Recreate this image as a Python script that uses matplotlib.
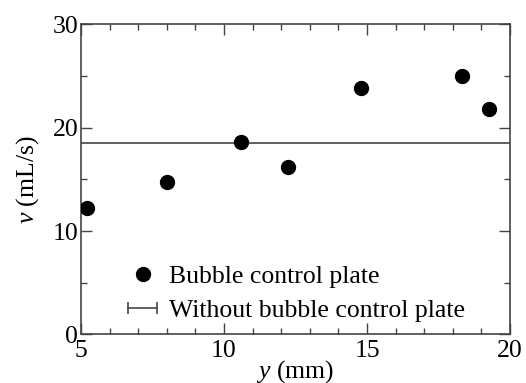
import matplotlib
matplotlib.use("Agg")
from matplotlib import pyplot as plt
from matplotlib.lines import Line2D
from matplotlib.legend_handler import HandlerLine2D
from matplotlib.ticker import MultipleLocator

plt.rcParams["font.family"] = "Liberation Serif"
plt.rcParams["mathtext.fontset"] = "custom"
plt.rcParams["mathtext.it"] = "Liberation Serif:italic"
plt.rcParams["mathtext.rm"] = "Liberation Serif"

# --- Datos ---
y_mm = [5.22, 8.0, 10.58, 12.23, 14.79, 18.33, 19.28]
v_plate = [12.25, 14.77, 18.58, 16.19, 23.87, 25.03, 21.8]
v_sin_placa = 18.54

lbl_plate = "Bubble control plate"
lbl_sin = "Without bubble control plate"

fs = 18.5
gris = "#444444"

fig = plt.figure(figsize=(5.26, 3.83), dpi=100)
ax = fig.add_axes([0.154, 0.127, 0.8156, 0.8096])

ax.scatter(y_mm, v_plate, s=100, c="black", zorder=3)
ax.axhline(v_sin_placa, color=gris, lw=1.2, zorder=2)

ax.set_xlim(5, 20)
ax.set_ylim(0, 30)
ax.xaxis.set_major_locator(MultipleLocator(5))
ax.xaxis.set_minor_locator(MultipleLocator(1))
ax.yaxis.set_major_locator(MultipleLocator(10))
ax.yaxis.set_minor_locator(MultipleLocator(5))
ax.tick_params(which="both", direction="in", top=True, right=True,
               width=1.0, color=gris, labelsize=fs)
ax.tick_params(axis="x", pad=4)
ax.tick_params(axis="y", pad=2)
ax.tick_params(which="major", length=8)
ax.tick_params(which="minor", length=4)
for s in ax.spines.values():
    s.set_color(gris)
    s.set_linewidth(1.2)

ax.set_xlabel(r"$\mathit{y}$ (mm)", fontsize=fs, labelpad=-3)
ax.set_ylabel(r"$\mathit{v}$ (mL/s)", fontsize=fs, labelpad=8)

# Leyenda
h1 = Line2D([], [], ls="none", marker="o", ms=10, color="black")
h2 = Line2D([], [], color=gris, lw=1.2, marker="|", ms=8, mew=1.2)
ax.legend([h1, h2], [lbl_plate, lbl_sin], loc="lower left",
          bbox_to_anchor=(0.11, 0.04), frameon=False, fontsize=fs,
          handlelength=1.13, handletextpad=0.45,
          labelspacing=0.42, borderpad=0, borderaxespad=0,
          handler_map={h1: HandlerLine2D(numpoints=1),
                       h2: HandlerLine2D(numpoints=2, marker_pad=0)})

plt.savefig("out.png", dpi=100)
